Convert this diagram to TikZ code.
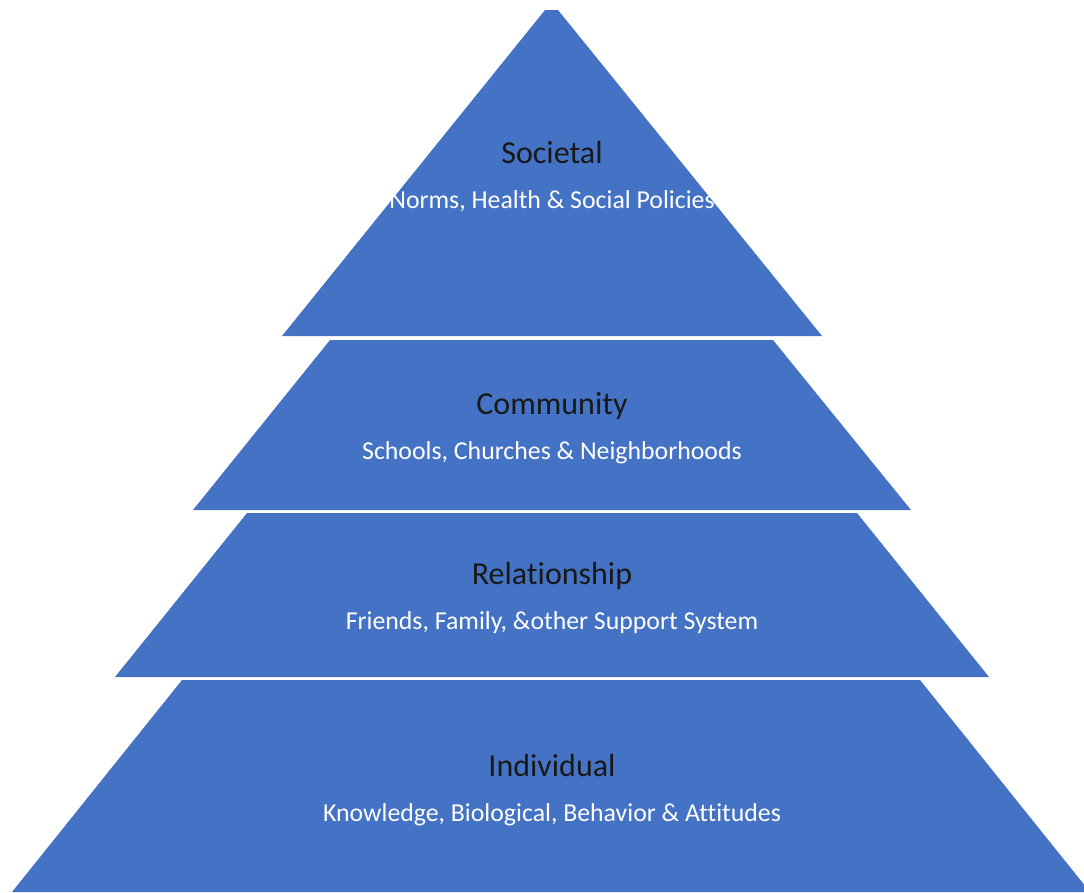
\documentclass[tikz,border=0pt]{standalone}
\usepackage{fontspec}
\setmainfont[Ligatures=NoCommon]{Carlito}
\definecolor{layerblue}{HTML}{4472C4}
\begin{document}
\begin{tikzpicture}[x=1pt, y=-1pt,
    layer/.style={fill=layerblue},
    title/.style={anchor=base, font=\fontsize{32}{38}\selectfont, text=black!90},
    sub/.style={anchor=base, font=\fontsize{25.8}{30}\selectfont, text=white}]
    \useasboundingbox (0,0) rectangle (1084,892);
    \begin{scope}
    \clip (0,0) rectangle (1084,892);
    % layers, top to bottom
    \fill[layer] (545,10) -- (558,10) -- (822,336) -- (282,336) -- cycle;
    \fill[layer] (330,340) -- (773,340) -- (911,510) -- (193,510) -- cycle;
    \fill[layer] (247,513) -- (857,513) -- (989,677) -- (115,677) -- cycle;
    \fill[layer] (182,680) -- (920,680) -- (1090,892) -- (12,892) -- cycle;
    \end{scope}
    \node[title] (societal) at (552,163) {Societal};
    \node[sub] (societalsub) at (552,208) {Norms, Health \& Social Policies};
    \node[title] (community) at (552,414) {Community};
    \node[sub] (communitysub) at (552,459) {Schools, Churches \& Neighborhoods};
    \node[title] (relationship) at (552,584) {Relationship};
    \node[sub] (relationshipsub) at (552,629) {Friends, Family, \&other Support System};
    \node[title] (individual) at (552,776) {Individual};
    \node[sub] (individualsub) at (552,821) {Knowledge, Biological, Behavior \& Attitudes};
\end{tikzpicture}
\end{document}
